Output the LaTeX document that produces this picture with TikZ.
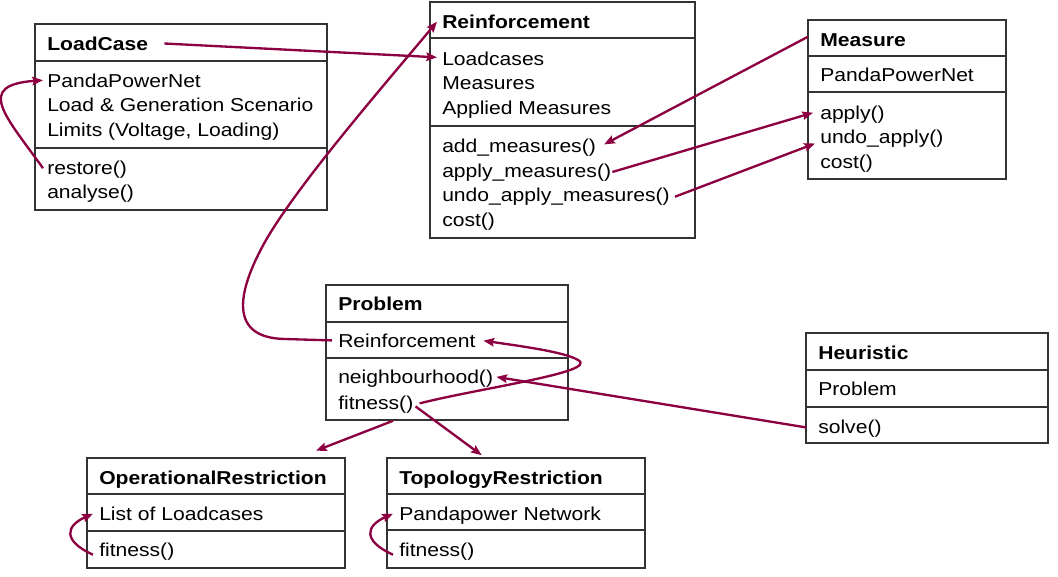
\documentclass[tikz,border=0pt]{standalone}
\usepackage{fontspec}
\setmainfont[FakeStretch=1.13]{Liberation Sans}
\usetikzlibrary{arrows.meta,calc,fit}
\definecolor{conncol}{RGB}{140,0,65}
\begin{document}
\begin{tikzpicture}[x=0.75pt,y=-0.75pt,
 txt/.style={inner sep=0pt, anchor=base west, font=\fontsize{14}{18}\selectfont},
 ttl/.style={txt, font=\fontsize{14}{18}\selectfont\bfseries},
 umlbox/.style={draw=black!80, line width=1.2pt, inner sep=0pt},
 div/.style={draw=black!80, line width=1.2pt},
 conn/.style={draw=conncol, line width=1.75pt, -{Stealth[length=8pt,width=6.3pt,inset=1.2pt]}}]
\useasboundingbox (0,0) rectangle (1058,576);

% LoadCase
\node[umlbox, fit={(35,24) (327,210)}] (lc) {};
\draw[div] (35,61) -- (327,61);
\draw[div] (35,148) -- (327,148);
\node[ttl] (lc-t) at (47,50.2) {LoadCase};
\node[txt] (lc-a1) at (47,87.2) {PandaPowerNet};
\node[txt] (lc-a2) at (47,111.7) {Load \& Generation Scenario};
\node[txt] (lc-a3) at (47,136.2) {Limits (Voltage, Loading)};
\node[txt] (lc-m1) at (47,174.2) {restore()};
\node[txt] (lc-m2) at (47,198.7) {analyse()};

% Reinforcement
\node[umlbox, fit={(430,2) (695,238)}] (rf) {};
\draw[div] (430,38) -- (695,38);
\draw[div] (430,126) -- (695,126);
\node[ttl] (rf-t) at (442,28.4) {Reinforcement};
\node[txt] (rf-a1) at (442,65) {Loadcases};
\node[txt] (rf-a2) at (442,89.7) {Measures};
\node[txt] (rf-a3) at (442,114.4) {Applied Measures};
\node[txt] (rf-m1) at (442,152.4) {add\_measures()};
\node[txt] (rf-m2) at (442,177) {apply\_measures()};
\node[txt] (rf-m3) at (442,201.7) {undo\_apply\_measures()};
\node[txt] (rf-m4) at (442,226.4) {cost()};

% Measure
\node[umlbox, fit={(808,20) (1006,179)}] (ms) {};
\draw[div] (808,56) -- (1006,56);
\draw[div] (808,92) -- (1006,92);
\node[ttl] (ms-t) at (820,46) {Measure};
\node[txt] (ms-a1) at (820,81.7) {PandaPowerNet};
\node[txt] (ms-m1) at (820,119) {apply()};
\node[txt] (ms-m2) at (820,143.5) {undo\_apply()};
\node[txt] (ms-m3) at (820,168) {cost()};

% Problem
\node[umlbox, fit={(326,285) (568,420)}] (pb) {};
\draw[div] (326,322) -- (568,322);
\draw[div] (326,358) -- (568,358);
\node[ttl] (pb-t) at (338,310.7) {Problem};
\node[txt] (pb-a1) at (338,347.4) {Reinforcement};
\node[txt] (pb-m1) at (338,383.4) {neighbourhood()};
\node[txt] (pb-m2) at (338,409.4) {fitness()};

% Heuristic
\node[umlbox, fit={(806,333) (1048,443)}] (hr) {};
\draw[div] (806,370) -- (1048,370);
\draw[div] (806,407) -- (1048,407);
\node[ttl] (hr-t) at (818,359.4) {Heuristic};
\node[txt] (hr-a1) at (818,395.7) {Problem};
\node[txt] (hr-m1) at (818,433.4) {solve()};

% OperationalRestriction
\node[umlbox, fit={(87,458) (345,568)}] (or) {};
\draw[div] (87,494) -- (345,494);
\draw[div] (87,531) -- (345,531);
\node[ttl] (or-t) at (99,484.4) {OperationalRestriction};
\node[txt] (or-a1) at (99,520.7) {List of Loadcases};
\node[txt] (or-m1) at (99,556.7) {fitness()};

% TopologyRestriction
\node[umlbox, fit={(387,458) (645,568)}] (tr) {};
\draw[div] (387,494) -- (645,494);
\draw[div] (387,530) -- (645,530);
\node[ttl] (tr-t) at (399,484.4) {TopologyRestriction};
\node[txt] (tr-a1) at (399,520.7) {Pandapower Network};
\node[txt] (tr-m1) at (399,556.7) {fitness()};

% connectors
\draw[conn] ($(lc-t.base east)+(16,-6.7)$) -- ($(rf-a1.base west)+(-5,-7.7)$);
\draw[conn] ($(lc-m1.base west)+(-4,-6)$) .. controls +(-38,-53) and +(-68,5) .. ($(lc-a1.base west)+(-4,-7)$);
\draw[conn] ($(pb-a1.base west)+(-6,-7)$) -- (285,339) .. controls (230,338) and (235,295) .. (266,240) .. controls (300,182) and (380,90) .. ($(rf-t.base west)+(-5,-6.7)$);
\draw[conn] ($(ms-t.base west)+(-12,-9.3)$) -- ($(rf-m1.base east)+(8,-8)$);
\draw[conn] ($(rf-m2.base east)+(1,-5)$) -- ($(ms-m1.base west)+(-7,-6.3)$);
\draw[conn] ($(rf-m3.base east)+(5,-5)$) -- ($(ms-m2.base west)+(-5,0)$);
\draw[conn] ($(pb-m2.base east)+(6,-6)$) .. controls (480,388) and (600,372) .. (578,360) .. controls (565,352) and (520,346) .. ($(pb-a1.base east)+(7.7,-6.7)$);
\draw[conn] ($(hr-m1.base west)+(-12,-6)$) -- ($(pb-m1.base east)+(3,-6.5)$);
\draw[conn] ($(pb.south)+(-54,0)$) -- ($(or.north)+(100,-6.5)$);
\draw[conn] ($(pb-m2.base east)+(2,-3)$) -- ($(tr.north)+(-34.3,-2)$);
\draw[conn] ($(or-m1.base west)+(-6,-2)$) .. controls +(-31,-14) and +(-27,12) .. ($(or-a1.base west)+(-6,-7)$);
\draw[conn] ($(tr-m1.base west)+(-6,-2)$) .. controls +(-31,-14) and +(-27,12) .. ($(tr-a1.base west)+(-6,-7)$);
\end{tikzpicture}
\end{document}
